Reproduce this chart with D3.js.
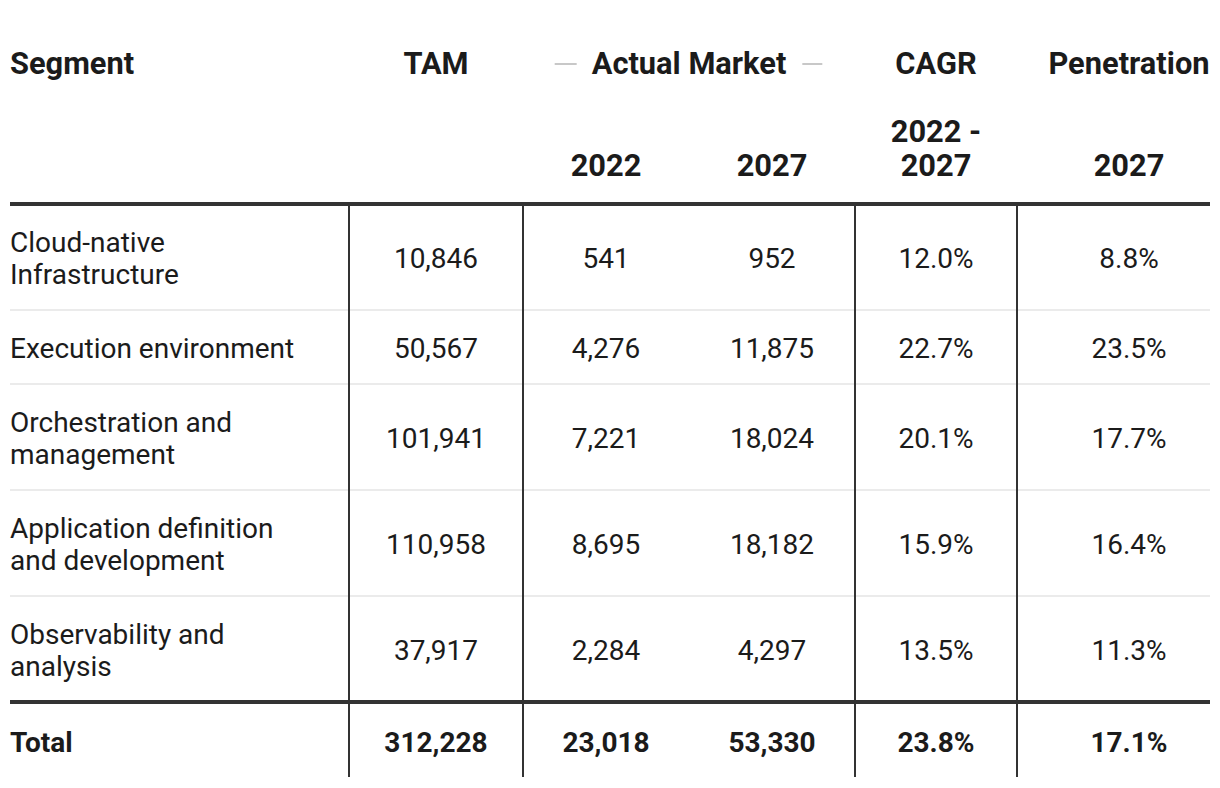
<!DOCTYPE html>
<html><head><meta charset="utf-8">
<script src="https://cdn.jsdelivr.net/npm/d3@7"></script>
<style>
html,body{margin:0;padding:0;background:#fff;}
svg{display:block;font-family:Roboto,"Noto Sans",sans-serif;}
</style></head>
<body><svg id="c" width="1220" height="788"></svg>
<script>
const segments = ["Cloud-native Infrastructure","Execution environment","Orchestration and management","Application definition and development","Observability and analysis"];
const tam = [10846, 50567, 101941, 110958, 37917];
const actual2022 = [541, 4276, 7221, 8695, 2284];
const actual2027 = [952, 11875, 18024, 18182, 4297];
const cagr = [12.0, 22.7, 20.1, 15.9, 13.5];
const penetration = [8.8, 23.5, 17.7, 16.4, 11.3];
const totalRow = {label:"Total", tam:312228, a22:23018, a27:53330, cagr:23.8, pen:17.1};
const headerTop = ["Segment","TAM","Actual Market","CAGR","Penetration"];
const headerSub = ["","","2022","2027","2022 -\n2027","2027"];

const svg = d3.select("#c");
const fs = 28, hfs = 30.8, lh = 32;
const fmtN = d3.format(",");
const fmtP = d => d3.format(".1f")(d) + "%";
const ink = "#1b1b1b";

const colKeys = ["seg","tam","a22","a27","cagr","pen"];
const colEdges = [10, 349, 523, 689, 855, 1017, 1241];
const xCenter = d3.scaleOrdinal().domain(colKeys).range(colKeys.map((k,i)=>(colEdges[i]+colEdges[i+1])/2));
const xLeft = d3.scaleOrdinal().domain(colKeys).range(colEdges.slice(0,-1));
const tableRight = 1210;

function wrapLines(text, maxW){
  const tmp = svg.append("text").style("font-size",fs+"px");
  const words = text.split(" "); const lines=[]; let cur="";
  words.forEach(w=>{
    const t = cur ? cur+" "+w : w;
    tmp.text(t);
    if (tmp.node().getComputedTextLength() > maxW && cur){ lines.push(cur); cur=w; } else cur=t;
  });
  if (cur) lines.push(cur);
  tmp.remove();
  return lines;
}

const rows = segments.map((s,i)=>({lines:wrapLines(s,300), tam:tam[i], a22:actual2022[i], a27:actual2027[i], cagr:cagr[i], pen:penetration[i]}));
const rowH = r => r.lines.length>1 ? 106 : 74;
const headerBottom = 204;
let y = headerBottom;
rows.forEach(r=>{ r.y0=y; y+=rowH(r); r.y1=y; });
const bodyBottom = y;
const totalH = 75;

// header
const hg = svg.append("g").attr("fill",ink).style("font-weight","700").style("font-size",hfs+"px");
const topY = 74;
hg.append("text").attr("x",10).attr("y",topY).text(headerTop[0]);
hg.append("text").attr("x",xCenter("tam")).attr("y",topY).attr("text-anchor","middle").text(headerTop[1]);
const amC = (colEdges[2]+colEdges[4])/2;
const am = hg.append("text").attr("x",amC).attr("y",topY).attr("text-anchor","middle").text(headerTop[2]);
hg.append("text").attr("x",xCenter("cagr")).attr("y",topY).attr("text-anchor","middle").text(headerTop[3]);
hg.append("text").attr("x",xCenter("pen")).attr("y",topY).attr("text-anchor","middle").text(headerTop[4]);
const amW = am.node().getComputedTextLength();
[[amC-amW/2-37, amC-amW/2-15],[amC+amW/2+16, amC+amW/2+36]].forEach(([a,b])=>{
  svg.append("line").attr("x1",a).attr("x2",b).attr("y1",64).attr("y2",64).attr("stroke","#c8c8c8").attr("stroke-width",2);
});
colKeys.forEach((k,i)=>{
  const parts = headerSub[i].split("\n").filter(d=>d);
  parts.forEach((p,j)=>{
    hg.append("text").attr("x",xCenter(k)).attr("y",176 - (parts.length-1-j)*34).attr("text-anchor","middle").text(p);
  });
});

// light row separators
svg.append("g").selectAll("line").data(rows.slice(1)).join("line")
  .attr("x1",10).attr("x2",tableRight).attr("y1",d=>d.y0).attr("y2",d=>d.y0)
  .attr("stroke","#ebebeb").attr("stroke-width",2);

// body
const bg = svg.append("g").attr("fill",ink).style("font-size",fs+"px");
rows.forEach(r=>{
  const cy = (r.y0+r.y1)/2 + 1;
  const n = r.lines.length;
  r.lines.forEach((l,j)=>{
    bg.append("text").attr("x",xLeft("seg")).attr("y",cy + (j-(n-1)/2)*lh).attr("dy","0.35em").text(l);
  });
  [["tam",fmtN(r.tam)],["a22",fmtN(r.a22)],["a27",fmtN(r.a27)],["cagr",fmtP(r.cagr)],["pen",fmtP(r.pen)]].forEach(([k,v])=>{
    bg.append("text").attr("x",xCenter(k)).attr("y",cy).attr("dy","0.35em").attr("text-anchor","middle").text(v);
  });
});

// total
const tg = svg.append("g").attr("fill",ink).style("font-size",fs+"px").style("font-weight","700");
const tcy = bodyBottom + totalH/2 + 3;
tg.append("text").attr("x",10).attr("y",tcy).attr("dy","0.35em").text(totalRow.label);
[["tam",fmtN(totalRow.tam)],["a22",fmtN(totalRow.a22)],["a27",fmtN(totalRow.a27)],["cagr",fmtP(totalRow.cagr)],["pen",fmtP(totalRow.pen)]].forEach(([k,v])=>{
  tg.append("text").attr("x",xCenter(k)).attr("y",tcy).attr("dy","0.35em").attr("text-anchor","middle").text(v);
});

// vertical lines
svg.append("g").selectAll("line").data([colEdges[1],colEdges[2],colEdges[4],colEdges[5]]).join("line")
  .attr("x1",d=>d).attr("x2",d=>d).attr("y1",headerBottom).attr("y2",bodyBottom+totalH)
  .attr("stroke","#333").attr("stroke-width",2);

// heavy rules
[headerBottom, bodyBottom].forEach(yy=>{
  svg.append("line").attr("x1",10).attr("x2",tableRight).attr("y1",yy).attr("y2",yy).attr("stroke","#333").attr("stroke-width",4);
});
</script></body></html>
